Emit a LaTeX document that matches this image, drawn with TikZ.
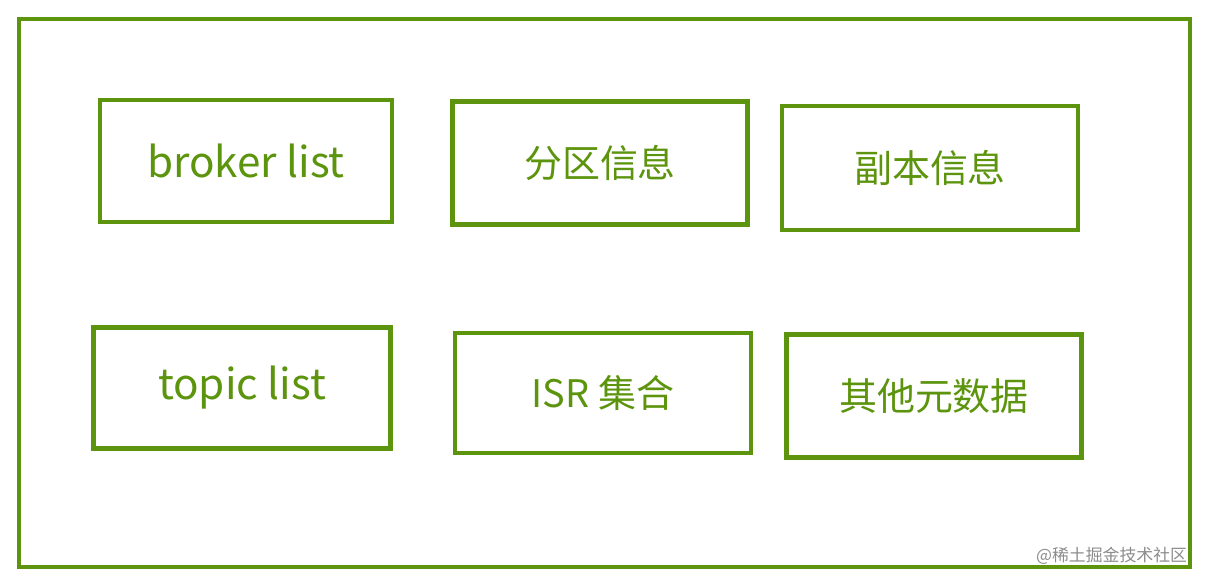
\documentclass[tikz,border=0pt]{standalone}
\usepackage{fontspec}
\setmainfont{Noto Sans CJK SC}
\usepackage{tikz}
\definecolor{leaf}{HTML}{5C940D}
\tikzset{
    box/.style={draw=leaf, line width=3pt, text=leaf, inner sep=0pt, font=\fontsize{27}{30}\selectfont},
    latin/.style={font=\fontsize{30}{33}\selectfont},
}

\begin{document}
\begin{tikzpicture}[x=0.025cm, y=-0.025cm]
                \useasboundingbox (0, 0) rectangle (1210, 587);
                \draw[leaf, line width=3pt] (19, 19) rectangle (1190, 567);
                \node[box, latin, minimum width=7.3cm, minimum height=3.05cm] (broker) at (246, 161) {broker list};
                \node[box, minimum width=7.37cm, minimum height=3.07cm] (partition) at (600, 163) {分区信息};
                \node[box, minimum width=7.4cm, minimum height=3.1cm] (replica) at (930, 168) {副本信息};
                \node[box, latin, minimum width=7.42cm, minimum height=3.02cm] (topic) at (242, 388) {topic list};
                \node[box, minimum width=7.4cm, minimum height=3cm] (isr) at (603, 393) {ISR 集合};
                \node[box, minimum width=7.37cm, minimum height=3.07cm] (meta) at (934, 396) {其他元数据};
                \node[text=black!45, font=\fontsize{12}{14}\selectfont, anchor=east] (mark) at (1192, 556) {@稀土掘金技术社区};
            \end{tikzpicture}
\end{document}
